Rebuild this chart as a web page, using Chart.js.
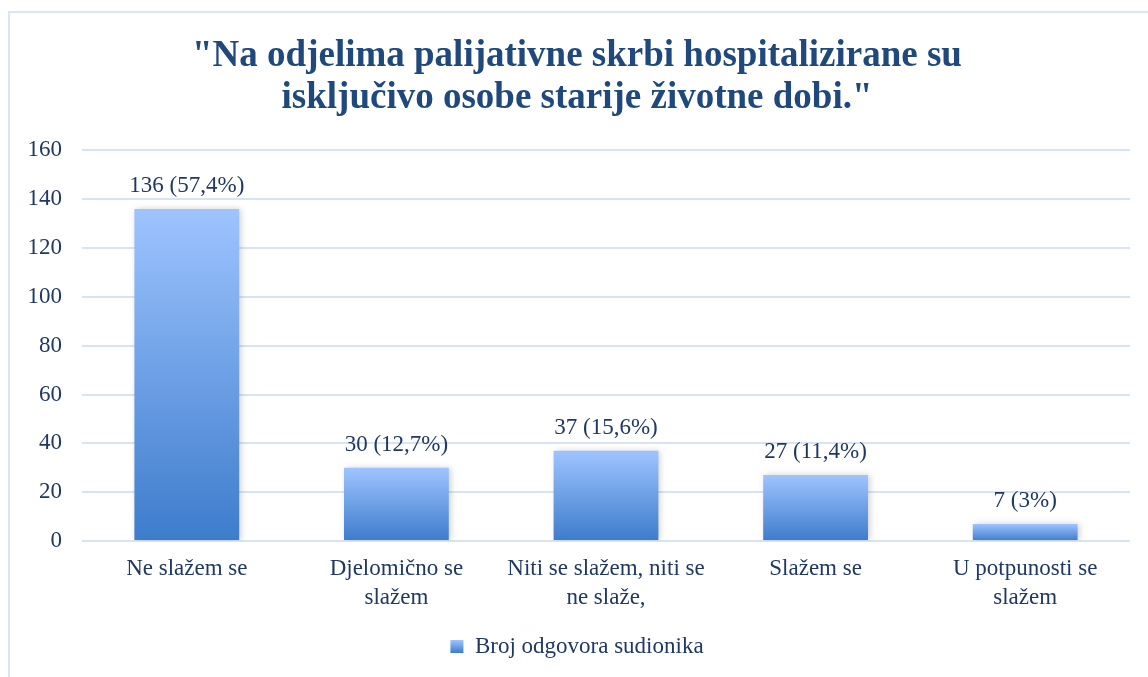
<!DOCTYPE html>
<html>
<head>
<meta charset="utf-8">
<script src="https://cdn.jsdelivr.net/npm/chart.js@4"></script>
<style>
  html, body { margin: 0; padding: 0; background: #fff; overflow: hidden; }
  #frame { position: absolute; left: 8px; top: 11px; width: 1160px; height: 700px; border: 2px solid #dce6f2; box-sizing: border-box; }
  #wrap { position: absolute; left: 0; top: 0; width: 1148px; height: 677px; }
</style>
</head>
<body>
<div id="frame"></div>
<div id="wrap"><canvas id="chart"></canvas></div>
<script>
// podaci s grafikona
const categories = [
    "Ne slažem se",
    ["Djelomično se", "slažem"],
    ["Niti se slažem, niti se", "ne slaže,"],
    "Slažem se",
    ["U potpunosti se", "slažem"]
];
const counts = [136, 30, 37, 27, 7];
const percents = ["57,4%", "12,7%", "15,6%", "11,4%", "3%"];
const yTicks = [0, 20, 40, 60, 80, 100, 120, 140, 160];
const seriesName = "Broj odgovora sudionika";

const textColor = "#1f3864";
const serif = "'Liberation Serif', 'Times New Roman', serif";

function barGradient(context) {
    const chart = context.chart;
    if (!chart.chartArea || context.raw === undefined) return "#6a9de6";
    const y = chart.scales.y;
    const top = y.getPixelForValue(context.raw);
    const bottom = y.getPixelForValue(0);
    const g = chart.ctx.createLinearGradient(0, top, 0, bottom);
    g.addColorStop(0, "#9ec4ff");
    g.addColorStop(1, "#3d7ccc");
    return g;
}

// natpisi iznad stupaca
const valueLabels = {
    id: "valueLabels",
    afterDatasetsDraw(chart) {
        const ctx = chart.ctx;
        const meta = chart.getDatasetMeta(0);
        ctx.save();
        ctx.font = "23px " + serif;
        ctx.fillStyle = textColor;
        ctx.textAlign = "center";
        ctx.textBaseline = "middle";
        meta.data.forEach(function(bar, i) {
            ctx.fillText(counts[i] + " (" + percents[i] + ")", bar.x, bar.y - 23);
        });
        ctx.restore();
    }
};

const barShadow = {
    id: "barShadow",
    beforeDatasetsDraw(chart) {
        chart.ctx.save();
        chart.ctx.shadowColor = "rgba(0,0,0,0.18)";
        chart.ctx.shadowBlur = 6;
        chart.ctx.shadowOffsetX = 2;
        chart.ctx.shadowOffsetY = 0;
    },
    afterDatasetsDraw(chart) {
        chart.ctx.restore();
    }
};

// kvadratic legende s prijelazom boje
const legendBox = {
    id: "legendBox",
    afterDraw(chart) {
        const item = chart.legend.legendHitBoxes[0];
        if (!item) return;
        const ctx = chart.ctx;
        const s = 13;
        const x = item.left;
        const y = item.top + (item.height - s) / 2;
        const g = ctx.createLinearGradient(0, y, 0, y + s);
        g.addColorStop(0, "#9ec4ff");
        g.addColorStop(1, "#3d7ccc");
        ctx.save();
        ctx.fillStyle = "#fff";
        ctx.fillRect(x - 1, y - 1, s + 2, s + 2);
        ctx.fillStyle = g;
        ctx.fillRect(x, y, s, s);
        ctx.restore();
    }
};

new Chart(document.getElementById("chart").getContext("2d"), {
    type: "bar",
    data: {
        labels: categories,
        datasets: [{
            label: seriesName,
            data: counts,
            backgroundColor: barGradient,
            categoryPercentage: 1.0,
            barPercentage: 0.5
        }]
    },
    options: {
        responsive: true,
        maintainAspectRatio: false,
        animation: false,
        layout: { padding: { top: 35, right: 18, bottom: 9, left: 24 } },
        scales: {
            x: {
                grid: { display: false },
                border: { display: false },
                ticks: { color: textColor, font: { family: serif, size: 23, lineHeight: 1.26 }, maxRotation: 0, autoSkip: false, padding: 5 }
            },
            y: {
                min: 0,
                max: 160,
                afterBuildTicks: function(scale) { scale.ticks = yTicks.map(function(v) { return { value: v }; }); },
                afterFit: function(scale) { scale.width = 58; },
                grid: { color: "#d9e4f3", lineWidth: 2, drawTicks: false },
                border: { display: false },
                ticks: { color: textColor, font: { family: serif, size: 23 }, padding: 20 }
            }
        },
        plugins: {
            title: {
                display: true,
                text: ["\"Na odjelima palijativne skrbi hospitalizirane su", "isključivo osobe starije životne dobi.\""],
                color: "#1f497d",
                font: { family: serif, size: 37, weight: "bold", lineHeight: 1.14 },
                padding: { top: 0, bottom: 31 }
            },
            legend: {
                position: "bottom",
                labels: {
                    color: textColor,
                    font: { family: serif, size: 23 },
                    boxWidth: 13,
                    boxHeight: 13,
                    padding: 18,
                    generateLabels: function() {
                        return [{ text: seriesName, fillStyle: "#6a9de6", strokeStyle: "#6a9de6", lineWidth: 0, fontColor: textColor }];
                    }
                }
            },
            tooltip: { enabled: false }
        }
    },
    plugins: [barShadow, valueLabels, legendBox]
});
</script>
</body>
</html>
